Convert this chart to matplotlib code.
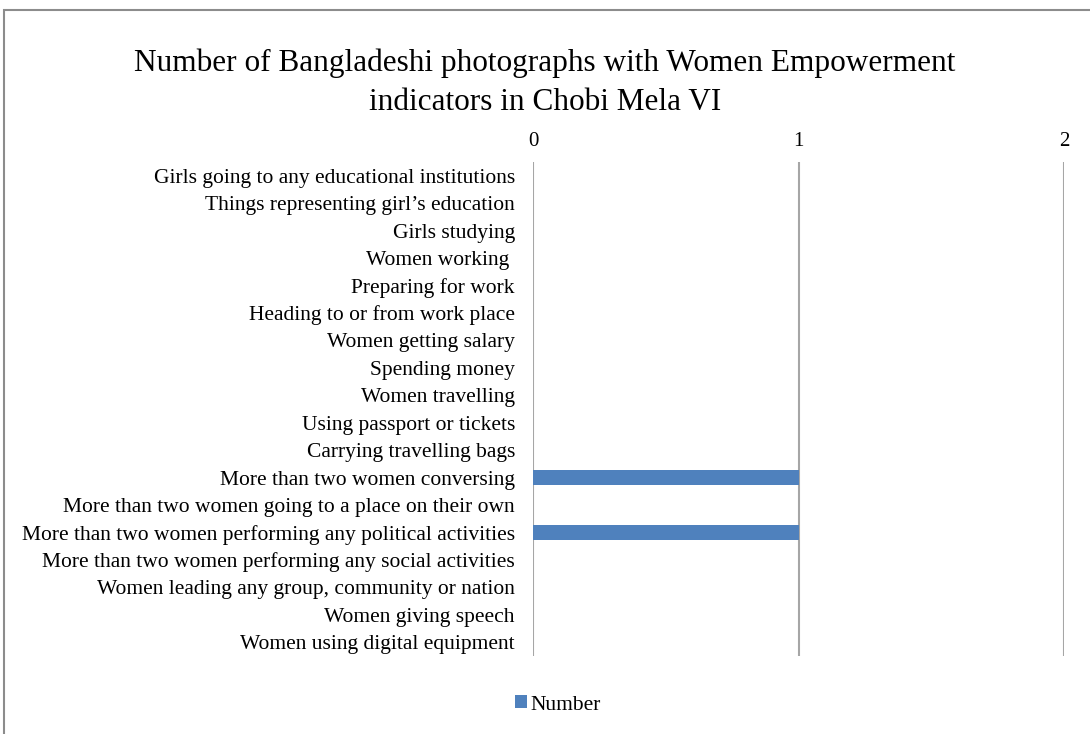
import matplotlib
matplotlib.use("Agg")
import matplotlib.pyplot as plt
from matplotlib.patches import Rectangle, Patch

plt.rcParams['font.family'] = ['Liberation Serif', 'DejaVu Serif']

categories = [
    "Girls going to any educational institutions",
    "Things representing girl\u2019s education",
    "Girls studying",
    "Women working ",
    "Preparing for work",
    "Heading to or from work place",
    "Women getting salary",
    "Spending money",
    "Women travelling",
    "Using passport or tickets",
    "Carrying travelling bags",
    "More than two women conversing",
    "More than two women going to a place on their own",
    "More than two women performing any political activities",
    "More than two women performing any social activities",
    "Women leading any group, community or nation",
    "Women giving speech",
    "Women using digital equipment",
]
values = [0, 0, 0, 0, 0, 0, 0, 0, 0, 0, 0, 1, 0, 1, 0, 0, 0, 0]
x_ticks = [0, 1, 2]
series_name = "Number"
title = "Number of Bangladeshi photographs with Women Empowerment\nindicators in Chobi Mela VI"

fig = plt.figure(figsize=(10.9, 7.34), dpi=100)
ax = fig.add_axes([533/1090, 1-656/734, (1064-533)/1090, (656-162)/734])

pos = list(range(len(categories)))
ax.barh(pos, values, height=0.55, color='#4F81BD', label=series_name, zorder=3)
ax.set_ylim(len(categories)-0.5, -0.5)
ax.set_xlim(0, 2)
ax.set_xticks(x_ticks)
ax.set_xticklabels([str(t) for t in x_ticks])
ax.xaxis.tick_top()
ax.tick_params(axis='x', length=0, pad=8, labelsize=15)
ax.tick_params(axis='y', length=0, pad=13, labelsize=15.5)
ax.set_yticks(pos)
ax.set_yticklabels(categories)
for s in ax.spines.values():
    s.set_visible(False)
ax.grid(axis='x', color='#A6A6A6', linewidth=1.5, zorder=0)
ax.grid(axis='y', visible=False)

fig.text(0.5, 1-83/734, title, ha='center', va='center', fontsize=22.5, linespacing=1.45)

# outer chart border
fig.patches.append(Rectangle((4/1090, -0.5), 2, 1.5 - 10/734, transform=fig.transFigure,
                             fill=False, edgecolor='#8C8C8C', linewidth=1.5))

handles = [Patch(facecolor='#4F81BD', label=series_name)]
fig.legend(handles=handles, loc='center', bbox_to_anchor=(558/1090, 1-705/734), frameon=False,
           fontsize=15.5, handlelength=0.55, handleheight=0.55, handletextpad=0.2)

fig.savefig("out.png", dpi=100)
